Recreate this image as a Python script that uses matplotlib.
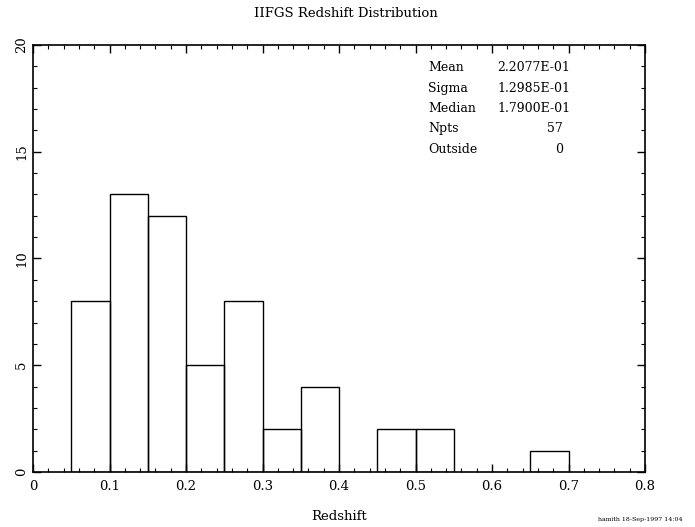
import numpy as np
import matplotlib
matplotlib.use('Agg')
import matplotlib.pyplot as plt
from matplotlib.ticker import MultipleLocator

# histogram data
bin_left = [0.00, 0.05, 0.10, 0.15, 0.20, 0.25, 0.30, 0.35, 0.40, 0.45, 0.50, 0.55, 0.60, 0.65, 0.70, 0.75]
counts = [0, 8, 13, 12, 5, 8, 2, 4, 0, 2, 2, 0, 0, 1, 0, 0]
bin_width = 0.05

x_ticks = [0, 0.1, 0.2, 0.3, 0.4, 0.5, 0.6, 0.7, 0.8]
x_labels = ['0', '0.1', '0.2', '0.3', '0.4', '0.5', '0.6', '0.7', '0.8']
y_ticks = [0, 5, 10, 15, 20]

stat_names = ['Mean', 'Sigma', 'Median', 'Npts', 'Outside']
stat_values = ['2.2077E-01', '1.2985E-01', '1.7900E-01', '57', '0']

plt.rcParams['font.family'] = 'DejaVu Serif'

fig = plt.figure(figsize=(6.95, 5.27), dpi=100)
ax = fig.add_axes([0.0475, 0.1044, 0.8806, 0.8102])

# draw bins (skip empty ones, their edge sits on the axis anyway)
for xl, c in zip(bin_left, counts):
    if c > 0:
        ax.bar(xl, c, width=bin_width, align='edge', fill=False,
               edgecolor='black', linewidth=1.0)

ax.set_xlim(0, 0.8)
ax.set_ylim(0, 20)
ax.set_xticks(x_ticks)
ax.set_xticklabels(x_labels)
ax.set_yticks(y_ticks)
ax.set_yticklabels([str(v) for v in y_ticks], rotation=90, va='center')
ax.xaxis.set_minor_locator(MultipleLocator(0.02))
ax.yaxis.set_minor_locator(MultipleLocator(1))
ax.tick_params(which='both', direction='in', top=True, right=True, labelsize=9.5)
ax.tick_params(which='major', length=6, width=1)
ax.tick_params(which='minor', length=3, width=0.8)
ax.tick_params(axis='x', pad=6)
for s in ax.spines.values():
    s.set_linewidth(1.2)

ax.set_xlabel('Redshift', fontsize=9.5, labelpad=12)
fig.text(0.497, 0.975, 'IIFGS Redshift Distribution', ha='center', va='center', fontsize=9.5)

# statistics box
for i, (nm, val) in enumerate(zip(stat_names, stat_values)):
    y = 0.871 - i * 0.0385
    fig.text(0.616, y, nm, ha='left', va='center', fontsize=9)
    if i < 3:
        fig.text(0.716, y, val, ha='left', va='center', fontsize=9)
    else:
        fig.text(0.810, y, val, ha='right', va='center', fontsize=9)

fig.text(0.860, 0.010, 'hamith 18-Sep-1997 14:04', ha='left', va='bottom', fontsize=4.5)

fig.savefig('out.png', dpi=100)
